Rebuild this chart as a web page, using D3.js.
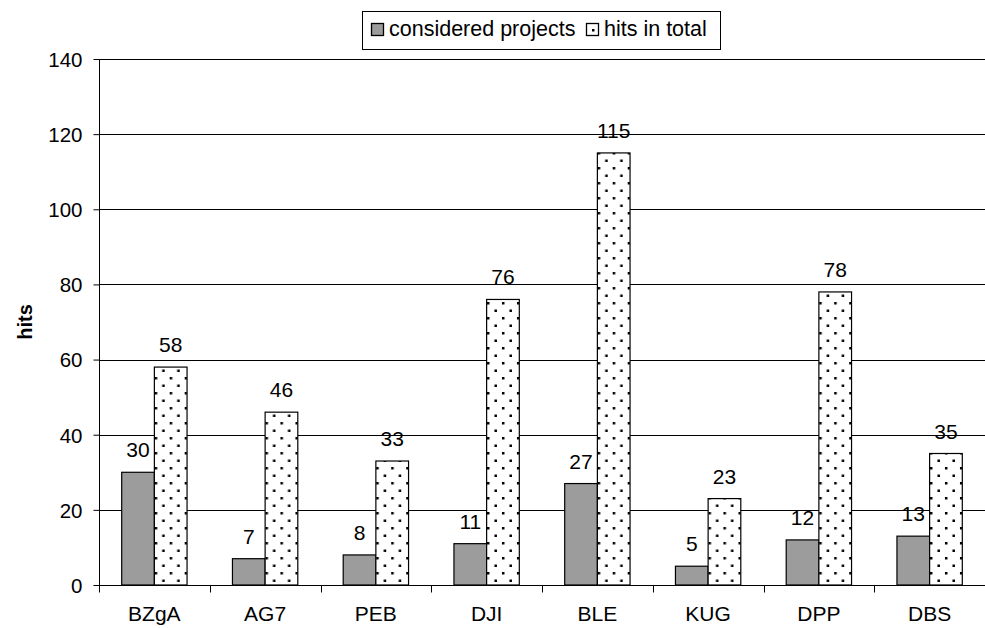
<!DOCTYPE html>
<html>
<head>
<meta charset="utf-8">
<script src="https://cdn.jsdelivr.net/npm/d3@7"></script>
<style>
  body { margin: 0; background: #fff; }
  svg { display: block; font-family: "Liberation Sans", Arial, sans-serif; }
</style>
</head>
<body>
<div id="chart"></div>
<script>
var categories = ["BZgA", "AG7", "PEB", "DJI", "BLE", "KUG", "DPP", "DBS"];
var consideredProjects = [30, 7, 8, 11, 27, 5, 12, 13];
var hitsInTotal = [58, 46, 33, 76, 115, 23, 78, 35];
var yTicks = [0, 20, 40, 60, 80, 100, 120, 140];
var seriesNames = ["considered projects", "hits in total"];

var width = 985, height = 628;
var margin = {top: 59, right: 0, bottom: 43, left: 99};
var innerW = width - margin.left - margin.right,
    innerH = height - margin.top - margin.bottom;

var svg = d3.select("#chart").append("svg")
  .attr("width", width)
  .attr("height", height);

// dotted fill like the old excel pattern
var defs = svg.append("defs");
var pat = defs.append("pattern")
  .attr("id", "dots")
  .attr("patternUnits", "userSpaceOnUse")
  .attr("width", 15).attr("height", 15);
pat.append("rect").attr("width", 15).attr("height", 15).attr("fill", "#fff");
pat.append("rect").attr("x", 3).attr("y", 3).attr("width", 2.5).attr("height", 2.5).attr("fill", "#000");
pat.append("rect").attr("x", 10.5).attr("y", 10.5).attr("width", 2.5).attr("height", 2.5).attr("fill", "#000");

var x = d3.scaleBand()
  .domain(categories)
  .range([0, innerW])
  .paddingInner(0.41)
  .paddingOuter(0.205);
var x1 = d3.scaleBand()
  .domain(seriesNames)
  .range([0, x.bandwidth()]);
var y = d3.scaleLinear()
  .domain([0, 140])
  .range([innerH, 0]);

var g = svg.append("g")
  .attr("transform", "translate(" + margin.left + "," + margin.top + ")");

// grid lines
g.append("g").selectAll("line")
  .data(yTicks.slice(1))
  .enter().append("line")
  .attr("x1", 0).attr("x2", innerW)
  .attr("y1", function(d) { return Math.round(y(d)) + 0.5; })
  .attr("y2", function(d) { return Math.round(y(d)) + 0.5; })
  .attr("stroke", "#000")
  .attr("stroke-width", 1);

// y axis
var yAxis = g.append("g")
  .attr("transform", "translate(0.5,0)")
  .call(d3.axisLeft(y).tickValues(yTicks).tickSize(6).tickPadding(11));
yAxis.selectAll("text").attr("font-size", 20.5).attr("fill", "#000")
  .attr("dy", "0.36em")
  .style("font-family", "Liberation Sans, Arial, sans-serif");
yAxis.selectAll("line, path").attr("stroke", "#000");
yAxis.select(".domain").attr("d", "M0," + innerH + "V0");

// x axis, ticks sit between categories
var bounds = d3.range(categories.length + 1);
var xAxis = g.append("g")
  .attr("transform", "translate(0," + (Math.round(innerH) + 0.5) + ")");
xAxis.append("line")
  .attr("x1", 0).attr("x2", innerW)
  .attr("stroke", "#000");
xAxis.selectAll(".tk")
  .data(bounds)
  .enter().append("line")
  .attr("class", "tk")
  .attr("x1", function(d) { return Math.round(d * x.step()) + 0.5; })
  .attr("x2", function(d) { return Math.round(d * x.step()) + 0.5; })
  .attr("y1", 0).attr("y2", 7)
  .attr("stroke", "#000");
xAxis.selectAll(".lbl")
  .data(categories)
  .enter().append("text")
  .attr("class", "lbl")
  .attr("x", function(d) { return x(d) + x.bandwidth() / 2; })
  .attr("y", 35)
  .attr("text-anchor", "middle")
  .attr("font-size", 21)
  .text(function(d) { return d; });

// bars
var rows = categories.map(function(c, i) {
  return {cat: c, vals: [
    {s: seriesNames[0], v: consideredProjects[i]},
    {s: seriesNames[1], v: hitsInTotal[i]}
  ]};
});

var groups = g.selectAll(".grp")
  .data(rows)
  .enter().append("g")
  .attr("class", "grp")
  .attr("transform", function(d) { return "translate(" + x(d.cat) + ",0)"; });

groups.selectAll("rect")
  .data(function(d) { return d.vals; })
  .enter().append("rect")
  .attr("x", function(d) { return x1(d.s); })
  .attr("y", function(d) { return y(d.v); })
  .attr("width", x1.bandwidth())
  .attr("height", function(d) { return innerH - y(d.v); })
  .attr("fill", function(d) { return d.s === seriesNames[0] ? "#9c9c9c" : "url(#dots)"; })
  .attr("stroke", "#000")
  .attr("stroke-width", 1.2);

groups.selectAll(".val")
  .data(function(d) { return d.vals; })
  .enter().append("text")
  .attr("class", "val")
  .attr("x", function(d) { return x1(d.s) + x1.bandwidth() / 2; })
  .attr("y", function(d) { return y(d.v) - 15; })
  .attr("text-anchor", "middle")
  .attr("font-size", 21)
  .text(function(d) { return d.v; });

// y label
svg.append("text")
  .attr("transform", "translate(32," + (margin.top + innerH / 2) + ") rotate(-90)")
  .attr("text-anchor", "middle")
  .attr("font-size", 20)
  .attr("font-weight", "bold")
  .text("hits");

// legend
var leg = svg.append("g").attr("transform", "translate(362,11)");
leg.append("rect")
  .attr("x", 0.5).attr("y", 0.5)
  .attr("width", 358).attr("height", 38)
  .attr("fill", "#fff").attr("stroke", "#000");
var legX = [9, 224];
seriesNames.forEach(function(name, i) {
  leg.append("rect")
    .attr("x", legX[i] + 0.5).attr("y", 12.5)
    .attr("width", 12).attr("height", 12)
    .attr("fill", i === 0 ? "#9c9c9c" : "#fff")
    .attr("stroke", "#000").attr("stroke-width", 1.3);
  if (i === 1) {
    leg.append("rect").attr("x", legX[i] + 6).attr("y", 18).attr("width", 2.5).attr("height", 2.5).attr("fill", "#000");
  }
  leg.append("text")
    .attr("x", legX[i] + 18).attr("y", 25)
    .attr("font-size", 21.5)
    .text(name);
});
</script>
</body>
</html>
